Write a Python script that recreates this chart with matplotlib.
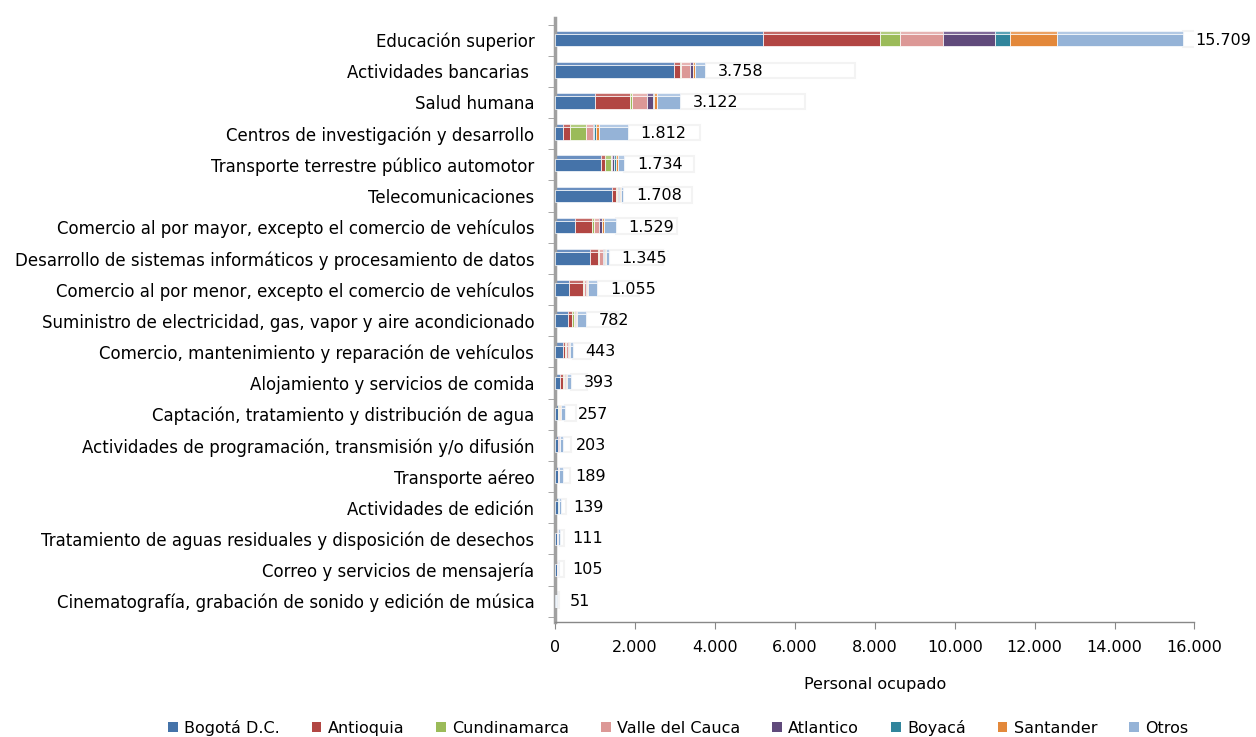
import matplotlib
matplotlib.use("Agg")
import matplotlib.pyplot as plt
import numpy as np
from matplotlib.patches import Patch

categories = [
    "Educación superior",
    "Actividades bancarias ",
    "Salud humana",
    "Centros de investigación y desarrollo",
    "Transporte terrestre público automotor",
    "Telecomunicaciones",
    "Comercio al por mayor, excepto el comercio de vehículos",
    "Desarrollo de sistemas informáticos y procesamiento de datos",
    "Comercio al por menor, excepto el comercio de vehículos",
    "Suministro de electricidad, gas, vapor y aire acondicionado",
    "Comercio, mantenimiento y reparación de vehículos",
    "Alojamiento y servicios de comida",
    "Captación, tratamiento y distribución de agua",
    "Actividades de programación, transmisión y/o difusión",
    "Transporte aéreo",
    "Actividades de edición",
    "Tratamiento de aguas residuales y disposición de desechos",
    "Correo y servicios de mensajería",
    "Cinematografía, grabación de sonido y edición de música",
]

series_names = ["Bogotá D.C.", "Antioquia", "Cundinamarca", "Valle del Cauca",
                "Atlantico", "Boyacá", "Santander", "Otros"]

bogota       = [5200, 2975, 1000, 200, 1150, 1420, 500, 870, 340, 330, 190, 120, 60, 80, 60, 60, 40, 50, 10]
antioquia    = [2925, 150, 870, 180, 110, 110, 420, 190, 350, 100, 60, 80, 20, 10, 15, 10, 10, 5, 5]
cundinamarca = [500, 30, 60, 400, 130, 20, 40, 30, 30, 40, 20, 10, 15, 5, 5, 5, 5, 3, 3]
valle        = [1075, 225, 380, 160, 40, 30, 140, 110, 40, 20, 60, 40, 15, 10, 10, 5, 5, 5, 3]
atlantico    = [1300, 60, 130, 40, 40, 20, 60, 30, 30, 20, 15, 20, 5, 5, 5, 3, 2, 2, 2]
boyaca       = [375, 20, 40, 40, 60, 20, 20, 15, 15, 20, 10, 10, 10, 5, 5, 3, 2, 2, 2]
santander    = [1175, 50, 60, 70, 40, 20, 40, 20, 20, 20, 15, 13, 10, 5, 5, 3, 2, 3, 2]
otros        = [3159, 248, 582, 722, 164, 68, 309, 80, 230, 232, 73, 100, 122, 83, 84, 50, 45, 35, 24]

totals = [15709, 3758, 3122, 1812, 1734, 1708, 1529, 1345, 1055, 782, 443, 393, 257, 203, 189, 139, 111, 105, 51]

colors = ["#4573A9", "#B24643", "#9BBB59", "#DC9896", "#604A7B", "#31859C", "#E3883A", "#95B3D7"]
tops = ["#6A8FC0", "#C46A67", "#B3CC80", "#E6B4B3", "#806A99", "#5CA3B6", "#EBA264", "#B3C9E4"]

data = [bogota, antioquia, cundinamarca, valle, atlantico, boyaca, santander, otros]

fig = plt.figure(figsize=(12.56, 7.37), dpi=100)
ax = fig.add_axes([0.442, 0.156, 0.509, 0.820])

y = np.arange(len(categories))
h = 0.40

# faint background "total" bars (transparent series of the 3D chart)
ax.barh(y - 0.03, totals, left=totals, height=h + 0.1, color="white", edgecolor="#F3F3F3",
        linewidth=1.5, zorder=1)

left = np.zeros(len(categories))
for vals, c, tc in zip(data, colors, tops):
    vals = np.array(vals, dtype=float)
    ax.barh(y, vals, left=left, height=h, color=c, edgecolor="white",
            linewidth=0.5, zorder=3)
    # top face of 3D bar
    ax.barh(y - h / 2 - 0.05, vals, left=left, height=0.10, color=tc,
            edgecolor="white", linewidth=0.4, zorder=2)
    left += vals

for yi, t in zip(y, totals):
    s = f"{t:,}".replace(",", ".")
    ax.annotate(s, xy=(t, yi), xytext=(9, 0), textcoords="offset points",
                va="center", ha="left", fontsize=11.5, color="black", zorder=5)

ax.set_yticks(y)
ax.set_yticklabels(categories, fontsize=12)
ax.set_ylim(18.67, -0.72)
ax.set_xlim(0, 16000)
xt = np.arange(0, 16001, 2000)
ax.set_xticks(xt)
ax.set_xticklabels([f"{v:,}".replace(",", ".") for v in xt], fontsize=11.5)
ax.set_xlabel("Personal ocupado", fontsize=11.5, labelpad=16)

# y tick marks at category boundaries
ax.set_yticks(np.arange(-0.5, len(categories), 1), minor=True)
ax.tick_params(axis="y", which="major", length=0, pad=15)
ax.tick_params(axis="y", which="minor", length=5, color="#999999", direction="out")
ax.tick_params(axis="x", length=5, color="#888888", pad=8)

for s in ["top", "right"]:
    ax.spines[s].set_visible(False)
ax.spines["left"].set_color("#A0A0A0")
ax.spines["left"].set_linewidth(2.5)
ax.spines["bottom"].set_color("#888888")
ax.spines["bottom"].set_linewidth(1.0)

handles = [Patch(facecolor=c, edgecolor="none") for c in colors]
fig.legend(handles, series_names, loc="lower center", bbox_to_anchor=(0.54, -0.018),
           ncol=8, frameon=False, fontsize=11.5, handlelength=0.6, handleheight=0.6,
           columnspacing=2.0, handletextpad=0.4)

fig.savefig("out.png", dpi=100)
